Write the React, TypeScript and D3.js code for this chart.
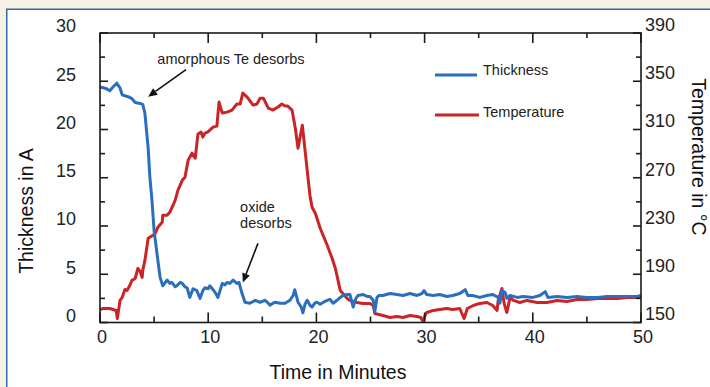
import React from 'react';
import * as d3 from 'd3';

const thicknessTime = [0, 0.4, 0.65, 0.9, 1.2, 1.55, 1.85, 2.05, 2.3, 2.6, 2.95, 3.25, 3.7, 3.95, 4.15, 4.45, 4.6, 4.8, 5.0, 5.25, 5.55, 5.8, 6.2, 6.45, 6.65, 6.95, 7.1, 7.4, 7.6, 7.85, 8.05, 8.3, 8.6, 8.95, 9.25, 9.5, 9.7, 10.0, 10.15, 10.45, 10.65, 10.9, 11.3, 11.55, 11.75, 12.0, 12.3, 12.65, 12.85, 13.1, 13.4, 13.85, 14.35, 14.8, 15.25, 15.55, 15.7, 16.15, 16.65, 17.1, 17.55, 17.85, 18.0, 18.3, 18.6, 18.75, 18.95, 19.15, 19.4, 19.6, 19.85, 20.05, 20.35, 20.5, 20.8, 21.0, 21.25, 21.55, 21.9, 22.2, 22.45, 22.85, 23.1, 23.4, 23.65, 23.85, 24.3, 24.7, 24.95, 25.25, 25.4, 25.6, 25.8, 26.15, 26.8, 27.45, 28.0, 28.65, 29.3, 29.75, 29.95, 30.2, 30.8, 31.4, 32.05, 32.6, 33.25, 33.75, 34.0, 34.45, 35.1, 35.75, 36.3, 36.8, 36.95, 37.15, 37.45, 37.6, 37.9, 38.55, 39.1, 40.0, 40.65, 41.15, 41.4, 42.25, 43.15, 44.1, 45.0, 45.95, 46.85, 47.8, 48.7, 49.65, 50];
const thicknessValues = [24.4, 24.3, 24.2, 24.0, 24.4, 24.8, 24.3, 23.6, 23.5, 23.4, 23.2, 22.8, 22.7, 22.6, 21.7, 18.1, 15.2, 12.7, 9.5, 7.3, 4.7, 3.8, 4.4, 4.05, 4.15, 3.7, 3.8, 4.15, 4.05, 3.7, 3.6, 2.6, 3.5, 3.3, 2.5, 3.3, 3.6, 3.5, 3.8, 3.4, 3.1, 2.6, 4.05, 3.9, 4.15, 4.05, 4.4, 4.05, 4.15, 3.1, 2.1, 2.0, 2.3, 2.1, 2.3, 2.0, 1.8, 2.1, 2.0, 2.0, 2.3, 2.8, 3.4, 2.1, 1.6, 1.0, 1.9, 2.3, 1.8, 1.6, 2.0, 2.1, 1.9, 2.0, 2.2, 2.3, 2.4, 2.0, 2.3, 2.6, 2.8, 2.9, 2.9, 1.6, 2.5, 2.8, 2.9, 2.7, 2.7, 2.3, 1.1, 2.6, 2.8, 2.8, 3.0, 2.9, 2.8, 3.0, 2.8, 3.0, 3.3, 2.9, 2.8, 2.9, 2.7, 2.8, 3.0, 3.4, 2.8, 2.8, 2.6, 2.8, 2.9, 2.6, 2.0, 3.3, 3.1, 2.5, 2.8, 2.6, 2.7, 2.6, 2.8, 3.2, 2.6, 2.7, 2.6, 2.7, 2.6, 2.6, 2.7, 2.7, 2.7, 2.7, 2.8];

const temperatureTime = [0, 0.3, 0.9, 1.2, 1.5, 1.6, 1.85, 2.05, 2.3, 2.5, 2.75, 2.95, 3.25, 3.5, 3.7, 3.9, 3.95, 4.15, 4.45, 4.9, 5.1, 5.35, 5.75, 5.8, 6.2, 6.45, 6.75, 6.95, 7.2, 7.6, 7.85, 8.15, 8.5, 8.8, 9.05, 9.35, 9.5, 9.7, 9.95, 10.15, 10.45, 10.8, 11.0, 11.3, 11.75, 12.2, 12.65, 12.95, 13.2, 13.6, 14.15, 14.5, 14.8, 15.1, 15.55, 16.0, 16.45, 16.8, 17.1, 17.35, 17.75, 18.05, 18.3, 18.7, 18.85, 19.15, 19.4, 19.6, 19.9, 20.35, 21.0, 21.45, 21.75, 21.9, 22.2, 22.45, 22.85, 23.1, 23.75, 24.3, 24.95, 25.25, 25.4, 26.15, 26.8, 27.45, 28.0, 28.65, 29.3, 29.65, 29.85, 30.05, 30.2, 30.8, 31.4, 32.05, 32.6, 33.25, 33.65, 33.95, 34.5, 35.1, 35.75, 36.3, 36.7, 36.8, 37.15, 37.35, 37.6, 37.9, 38.2, 38.8, 39.45, 40.4, 41.3, 42.25, 43.15, 44.1, 45.0, 45.95, 46.85, 47.8, 48.7, 49.65, 50];
const temperatureValues = [160.8, 161.6, 161.6, 160.8, 160.0, 153.3, 168.3, 170.8, 177.4, 176.6, 180.7, 184.9, 186.5, 194.9, 192.4, 187.4, 193.2, 201.5, 219.8, 222.3, 223.9, 228.9, 233.1, 238.9, 238.9, 241.4, 247.2, 251.4, 259.6, 267.9, 270.4, 284.6, 290.4, 286.2, 306.2, 307.8, 303.7, 307.0, 307.8, 309.5, 312.0, 312.8, 332.7, 323.6, 324.4, 326.1, 331.1, 331.1, 340.2, 336.9, 330.2, 331.1, 336.0, 336.0, 327.7, 326.1, 328.6, 331.1, 329.4, 329.4, 326.1, 311.1, 294.5, 313.6, 301.2, 276.2, 255.5, 245.5, 240.5, 228.1, 214.0, 203.2, 194.9, 189.0, 176.6, 174.1, 169.9, 168.3, 166.6, 165.8, 165.8, 164.1, 157.5, 155.8, 154.2, 155.0, 154.2, 155.8, 155.0, 154.2, 150.8, 155.8, 158.3, 160.0, 160.8, 161.6, 160.8, 161.6, 153.3, 161.6, 164.1, 165.8, 166.6, 164.1, 160.0, 168.3, 178.2, 165.8, 158.3, 170.8, 168.3, 166.6, 168.3, 166.6, 166.6, 168.3, 167.4, 169.1, 169.1, 169.9, 169.9, 169.9, 170.8, 170.8, 170.8];

const xTickValues = [0, 10, 20, 30, 40, 50];
const leftTickValues = [0, 5, 10, 15, 20, 25, 30];
const rightTickValues = [150, 190, 230, 270, 310, 350, 390];
const legendLabels = ['Thickness', 'Temperature'];
const xTitle = 'Time in Minutes';
const leftTitle = 'Thickness in A';
const rightTitle = 'Temperature in °C';

// annotations in data units (time, thickness)
const annoAmorphous = { text: 'amorphous Te desorbs', tx: 5.3, ty: 26.8, from: [7.95, 26.2], to: [4.45, 23.4] };
const annoOxide = { lines: ['oxide', 'desorbs'], tx: 12.95, ty: [11.5, 9.75], from: [14.6, 8.2], to: [13.2, 4.15] };

const BLUE = '#2a6fbd';
const RED = '#cc2327';
const FONT = '"Liberation Sans", Arial, sans-serif';

export default function App() {
  const W = 710, H = 387;
  const L = 100, R = 641, T = 33, B = 322.5;
  const x = d3.scaleLinear().domain([0, 50]).range([L, R]);
  const yL = d3.scaleLinear().domain([0, 30]).range([B, T]);
  const yR = d3.scaleLinear().domain([150, 390]).range([B, T]);

  const thickLine = d3.line<number>().x((_, i) => x(thicknessTime[i])).y(d => yL(d));
  const tempLine = d3.line<number>().x((_, i) => x(temperatureTime[i])).y(d => yR(d));

  const xMinor = d3.range(0, 50.01, 5);
  const lMinor = d3.range(0, 30.01, 2.5);
  const rMinor = d3.range(150, 390.01, 20);

  const axisColor = '#1a1a1a';
  const tickFont = 18;

  const arrowHead = (from: number[], to: number[]) => {
    const x1 = x(from[0]), y1 = yL(from[1]), x2 = x(to[0]), y2 = yL(to[1]);
    const a = Math.atan2(y2 - y1, x2 - x1);
    const len = 9, w = 4;
    const bx = x2 - len * Math.cos(a), by = y2 - len * Math.sin(a);
    const px = -Math.sin(a) * w, py = Math.cos(a) * w;
    return (
      <g>
        <line x1={x1} y1={y1} x2={bx} y2={by} stroke="#111" strokeWidth={1.6} />
        <path d={`M${x2},${y2} L${bx + px},${by + py} L${bx - px},${by - py} Z`} fill="#111" />
      </g>
    );
  };

  return (
    <svg width={W} height={H} style={{ position: 'absolute', left: 0, top: 0 }} fontFamily={FONT}>
      <rect x={0} y={0} width={W} height={H} fill="#f7f1e4" />
      <rect x={6.75} y={9.25} width={W + 10} height={H + 10} fill="#ffffff" stroke="#2f6ca3" strokeWidth={1.5} />

      {/* data lines */}
      <path d={tempLine(temperatureValues) || ''} fill="none" stroke={RED} strokeWidth={3} strokeLinejoin="round" />
      <path d={thickLine(thicknessValues) || ''} fill="none" stroke={BLUE} strokeWidth={3} strokeLinejoin="round" />

      {/* frame */}
      <rect x={L} y={T} width={R - L} height={B - T} fill="none" stroke={axisColor} strokeWidth={1.6} />

      {/* x ticks bottom & top */}
      {xMinor.map(v => {
        const major = v % 10 === 0;
        const len = major ? 10 : 6;
        return (
          <g key={'x' + v}>
            <line x1={x(v)} x2={x(v)} y1={B} y2={B - len} stroke={axisColor} strokeWidth={1.6} />
            <line x1={x(v)} x2={x(v)} y1={T} y2={T + (major ? 10 : 5)} stroke={axisColor} strokeWidth={1.6} />
          </g>
        );
      })}
      {xTickValues.map(v => (
        <text key={'xl' + v} x={x(v) + 2} y={343} fontSize={tickFont} textAnchor="middle" fill="#222">{v}</text>
      ))}

      {/* left ticks */}
      {lMinor.map(v => {
        const major = v % 5 === 0;
        return <line key={'l' + v} x1={L} x2={L + (major ? 8 : 5)} y1={yL(v)} y2={yL(v)} stroke={axisColor} strokeWidth={1.6} />;
      })}
      {leftTickValues.map(v => (
        <text key={'ll' + v} x={76} y={yL(v) - 7} dy="0.35em" fontSize={tickFont} textAnchor="end" fill="#222">{v}</text>
      ))}

      {/* right ticks */}
      {rMinor.map(v => {
        const major = (v - 150) % 40 === 0;
        return <line key={'r' + v} x1={R} x2={R - (major ? 8 : 5)} y1={yR(v)} y2={yR(v)} stroke={axisColor} strokeWidth={1.6} />;
      })}
      {rightTickValues.map(v => (
        <text key={'rl' + v} x={645} y={yR(v) - 8.5} dy="0.35em" fontSize={tickFont} textAnchor="start" fill="#222">{v}</text>
      ))}

      {/* titles */}
      <text x={338} y={379} fontSize={19.5} textAnchor="middle" fill="#111">{xTitle}</text>
      <text transform={`translate(33,211) rotate(-90)`} fontSize={19.5} textAnchor="middle" fill="#111">{leftTitle}</text>
      <text transform={`translate(692,157) rotate(90)`} fontSize={19.5} textAnchor="middle" fill="#111">{rightTitle}</text>

      {/* legend */}
      <line x1={435} x2={477} y1={75} y2={75} stroke={BLUE} strokeWidth={3} />
      <text x={483} y={75} fontSize={14.5} fill="#222">{legendLabels[0]}</text>
      <line x1={435} x2={479} y1={115} y2={115} stroke={RED} strokeWidth={3} />
      <text x={483} y={117} fontSize={14.5} fill="#222">{legendLabels[1]}</text>

      {/* annotations */}
      <text x={x(annoAmorphous.tx)} y={yL(annoAmorphous.ty)} fontSize={14.5} fill="#222">{annoAmorphous.text}</text>
      {arrowHead(annoAmorphous.from, annoAmorphous.to)}
      {annoOxide.lines.map((t, i) => (
        <text key={t} x={x(annoOxide.tx)} y={yL(annoOxide.ty[i])} fontSize={14.5} fill="#222">{t}</text>
      ))}
      {arrowHead(annoOxide.from, annoOxide.to)}
    </svg>
  );
}
